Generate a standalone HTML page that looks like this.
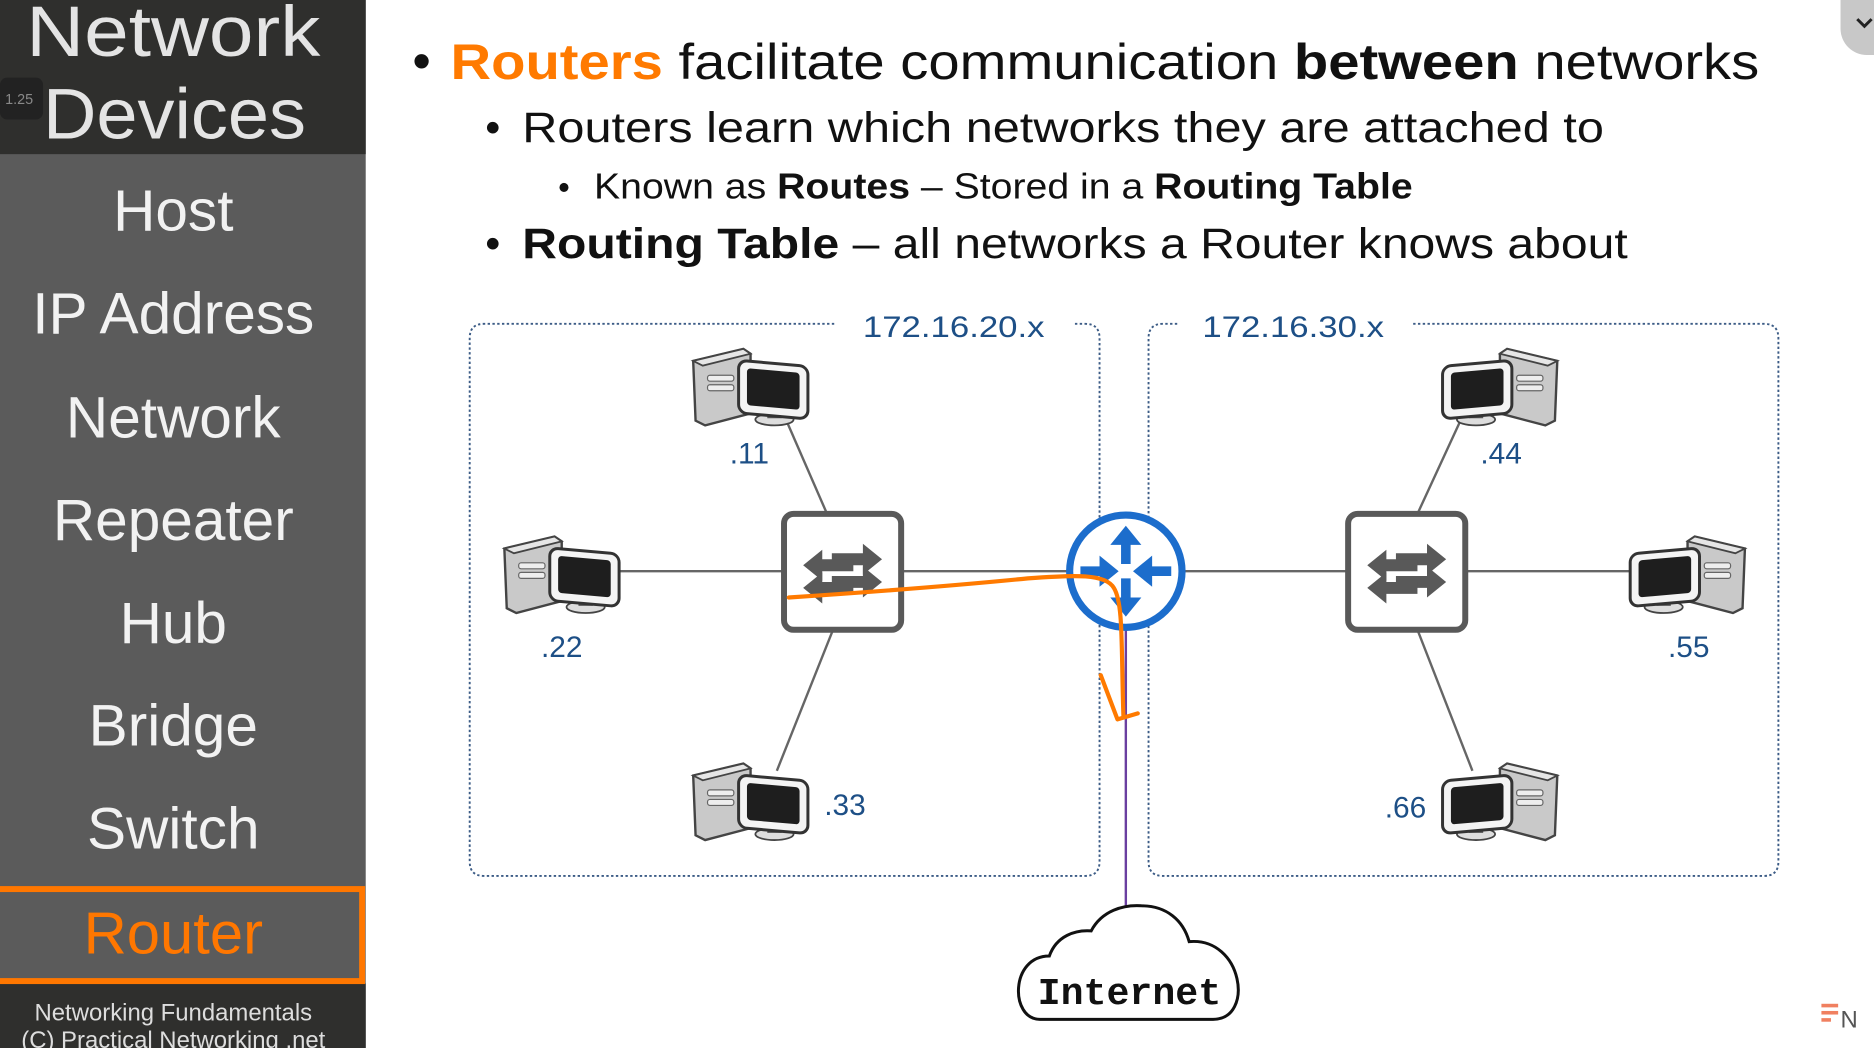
<!DOCTYPE html>
<html><head><meta charset="utf-8"><style>
html,body{margin:0;padding:0;background:#fff;}
svg{display:block}
text{font-family:"Liberation Sans","DejaVu Sans",sans-serif}
</style></head><body>
<svg width="1874" height="1048" viewBox="0 0 1568 877" preserveAspectRatio="none" xmlns="http://www.w3.org/2000/svg">
<defs>
<g id="pc">
  <polygon points="2,14 44,4 50,8 50,58 12,68 4,64" fill="#c9c9c9" stroke="#444" stroke-width="2"/>
  <polygon points="2,14 44,4 50,8 10,18" fill="#e6e6e6" stroke="#444" stroke-width="1.5"/>
  <rect x="14" y="26" width="22" height="5" rx="2" fill="#eee" stroke="#666"/>
  <rect x="14" y="34" width="22" height="5" rx="2" fill="#eee" stroke="#666"/>
  <ellipse cx="70" cy="63" rx="16" ry="5" fill="#ddd" stroke="#444" stroke-width="1.5"/>
  <rect x="64" y="54" width="12" height="8" fill="#555"/>
  <rect x="40" y="14" width="58" height="44" rx="7" fill="#f4f4f4" stroke="#333" stroke-width="2.5" transform="skewY(5) translate(0,-4)"/>
  <rect x="47" y="20" width="44" height="31" rx="3" fill="#1e1e1e" transform="skewY(5) translate(0,-4)"/>
</g>
<g id="sw">
  <rect x="0" y="0" width="98" height="97" rx="8" fill="#fff" stroke="#595959" stroke-width="5"/>
  <g fill="#595959">
    <polygon points="40,33 66,33 66,25 82,38 66,51 66,43 40,43"/>
    <polygon points="40,52 66,52 66,44 82,57 66,70 66,62 40,62"/>
    <polygon points="58,38 32,38 32,30 16,43 32,56 32,48 58,48"/>
    <polygon points="58,57 32,57 32,49 16,62 32,75 32,67 58,67"/>
  </g>
</g>
</defs>
<!-- sidebar -->
<rect x="0" y="0" width="306" height="877" fill="#5b5b5b"/>
<rect x="0" y="0" width="306" height="129" fill="#2f2f2d"/>
<rect x="0" y="823" width="306" height="54" fill="#2f2f2d"/>
<rect x="0" y="65" width="36" height="35" rx="6" fill="#222"/>
<text x="16" y="87" font-size="12" fill="#888" text-anchor="middle">1.25</text>
<g fill="#e4e4e4" font-size="60">
<text x="22" y="47" textLength="246" lengthAdjust="spacingAndGlyphs">Network</text>
<text x="36" y="116" textLength="220" lengthAdjust="spacingAndGlyphs">Devices</text>
</g>
<g fill="#f2f2f2" text-anchor="middle" font-size="49">
<text x="145" y="193">Host</text>
<text x="145" y="279">IP Address</text>
<text x="145" y="366">Network</text>
<text x="145" y="452">Repeater</text>
<text x="145" y="538">Hub</text>
<text x="145" y="624">Bridge</text>
<text x="145" y="710">Switch</text>
</g>
<rect x="-3" y="744" width="306" height="77" fill="none" stroke="#ff7700" stroke-width="5"/>
<text x="145" y="798" text-anchor="middle" font-size="50" fill="#ff7700">Router</text>
<text x="145" y="854" text-anchor="middle" font-size="20" fill="#ddd">Networking Fundamentals</text>
<text x="145" y="877" text-anchor="middle" font-size="20" fill="#ddd">(C) Practical Networking .net</text>
<!-- top-right tab -->
<path d="M1540,0 H1568 V46 H1562 A22,22 0 0 1 1540,24 Z" fill="#c8c8c8"/>
<path d="M1554,16 l6,6 l6,-6" fill="none" stroke="#222" stroke-width="2.5"/>
<!-- bullets -->
<text x="345" y="66" font-size="44" fill="#111">•</text>
<text x="377" y="66" font-size="42" fill="#111" textLength="1095" lengthAdjust="spacingAndGlyphs"><tspan fill="#ff7a00" font-weight="bold">Routers</tspan> facilitate communication <tspan font-weight="bold">between</tspan> networks</text>
<text x="406" y="119" font-size="36" fill="#111">•</text>
<text x="437" y="119" font-size="36" fill="#111" textLength="905" lengthAdjust="spacingAndGlyphs">Routers learn which networks they are attached to</text>
<text x="467" y="166" font-size="28" fill="#111">•</text>
<text x="497" y="166" font-size="30" fill="#111" textLength="685" lengthAdjust="spacingAndGlyphs">Known as <tspan font-weight="bold">Routes</tspan> – Stored in a <tspan font-weight="bold">Routing Table</tspan></text>
<text x="406" y="216" font-size="36" fill="#111">•</text>
<text x="437" y="216" font-size="36" fill="#111" textLength="925" lengthAdjust="spacingAndGlyphs"><tspan font-weight="bold">Routing Table</tspan> – all networks a Router knows about</text>
<!-- boxes -->
<g fill="none" stroke="#3c5c86" stroke-width="1.6" stroke-dasharray="2,2">
<path d="M698,271 H405 Q393,271 393,283 V721 Q393,733 405,733 H908 Q920,733 920,721 V283 Q920,271 908,271 H898"/>
<path d="M985,271 H973 Q961,271 961,283 V721 Q961,733 973,733 H1476 Q1488,733 1488,721 V283 Q1488,271 1476,271 H1182"/>
</g>
<g fill="#1d4f86" font-size="25" text-anchor="middle">
<text x="798" y="282" textLength="152" lengthAdjust="spacingAndGlyphs">172.16.20.x</text>
<text x="1082" y="282" textLength="152" lengthAdjust="spacingAndGlyphs">172.16.30.x</text>
<text x="627" y="388">.11</text>
<text x="470" y="550">.22</text>
<text x="707" y="682">.33</text>
<text x="1256" y="388">.44</text>
<text x="1413" y="550">.55</text>
<text x="1176" y="684">.66</text>
</g>
<!-- links -->
<g stroke="#666" stroke-width="2">
<line x1="518" y1="478" x2="656" y2="478"/>
<line x1="692" y1="430" x2="658" y2="352"/>
<line x1="697" y1="527" x2="650" y2="645"/>
<line x1="754" y1="478" x2="894" y2="478"/>
<line x1="990" y1="478" x2="1128" y2="478"/>
<line x1="1186" y1="430" x2="1222" y2="352"/>
<line x1="1226" y1="478" x2="1365" y2="478"/>
<line x1="1186" y1="527" x2="1232" y2="645"/>
</g>
<line x1="942" y1="526" x2="942" y2="762" stroke="#6a3fa0" stroke-width="2"/>
<!-- computers -->
<use href="#pc" x="578" y="288"/>
<use href="#pc" x="420" y="445"/>
<use href="#pc" x="578" y="635"/>
<use href="#pc" transform="translate(1305,288) scale(-1,1)"/>
<use href="#pc" transform="translate(1462,445) scale(-1,1)"/>
<use href="#pc" transform="translate(1305,635) scale(-1,1)"/>
<!-- switches -->
<use href="#sw" x="656" y="430"/>
<use href="#sw" x="1128" y="430"/>
<!-- router -->
<circle cx="942" cy="478" r="47" fill="#fff" stroke="#1c6dcc" stroke-width="6"/>
<g fill="#1c6dcc">
<polygon points="942,440 955,456 946,456 946,472 938,472 938,456 929,456"/>
<polygon points="942,516 955,500 946,500 946,484 938,484 938,500 929,500"/>
<polygon points="936,478 920,465 920,474 904,474 904,482 920,482 920,491"/>
<polygon points="948,478 964,465 964,474 980,474 980,482 964,482 964,491"/>
</g>
<!-- orange annotation -->
<path d="M660,500 C720,496 800,490 860,484 C900,481 925,480 932,492 C940,505 938,540 940,600 M921,565 L935,602 L952,597" fill="none" stroke="#ff7a00" stroke-width="3.5" stroke-linecap="round" stroke-linejoin="round"/>
<!-- cloud -->
<path d="M870,853 C845,853 845,800 878,800 C884,783 900,778 913,779 C922,762 940,757 955,758 C976,758 990,770 995,788 C1040,784 1050,853 1015,853 Z" fill="#fff" stroke="#111" stroke-width="2.5"/>
<text x="945" y="840" text-anchor="middle" font-size="32" font-weight="bold" fill="#111" style="font-family:'Liberation Mono',monospace">Internet</text>
<!-- logo -->
<g fill="#f08060"><rect x="1524" y="840" width="14" height="3"/><rect x="1524" y="846" width="14" height="3"/><rect x="1524" y="852" width="8" height="3"/></g>
<text x="1540" y="860" font-size="20" fill="#555">N</text>
</svg>
</body></html>
